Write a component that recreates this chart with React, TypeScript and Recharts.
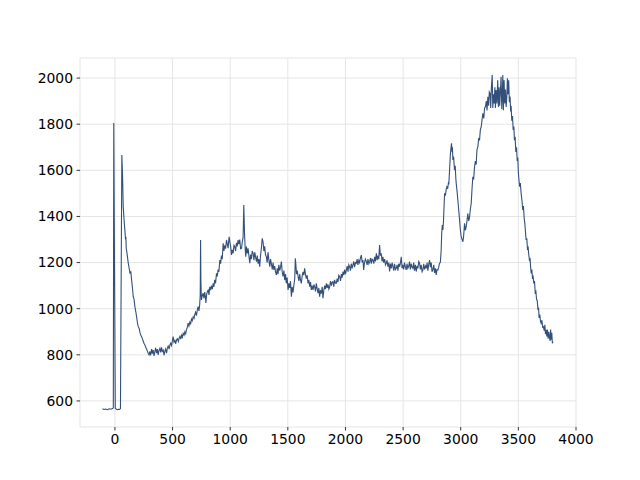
import React from "react"
import { LineChart, Line, XAxis, YAxis, CartesianGrid } from "recharts"

// ── Data ([x, y]) ─────────────────────────────────────────────────────────────

const baselineAndSpike: [number, number][] = [
  [-108, 566], [-95, 563], [-80, 565], [-65, 562], [-50, 566], [-35, 564],
  [-20, 567], [-14, 570], [-10, 1805], [3, 568], [10, 565], [20, 562],
  [30, 564], [40, 563], [48, 567]
]

const firstDecay: [number, number][] = [
  [60, 1666], [66, 1580], [72, 1442], [80, 1380], [88, 1330], [92, 1300],
  [95, 1312], [98, 1262], [105, 1240], [115, 1200], [125, 1170], [130, 1155],
  [138, 1160], [145, 1124], [152, 1090], [159, 1052], [166, 1040], [173, 1010],
  [180, 990], [188, 965], [195, 940], [202, 922], [210, 915], [218, 895],
  [225, 885], [231, 879], [238, 870], [245, 860], [252, 850], [260, 843],
  [268, 832], [275, 825], [282, 815], [289, 807], [296, 800]
]

const troughAndRise: [number, number][] = [
  [303, 815], [310, 798], [318, 825], [325, 805], [332, 821], [339, 795],
  [346, 812], [353, 830], [361, 807], [368, 825], [375, 800], [382, 818],
  [390, 828], [397, 810], [404, 832], [411, 815], [419, 821], [426, 798],
  [433, 815], [440, 825], [448, 807], [455, 830], [462, 838], [470, 825],
  [477, 843], [484, 850], [491, 840], [498, 860], [505, 879], [512, 855],
  [520, 862], [527, 848], [535, 865], [542, 870], [550, 858], [557, 872],
  [564, 880], [571, 868], [578, 885], [585, 876], [592, 893], [600, 885],
  [607, 900], [614, 892], [621, 910], [628, 920], [635, 937], [642, 925],
  [650, 942], [657, 935], [664, 955], [671, 948], [679, 965], [686, 958],
  [693, 975], [700, 985], [707, 970], [715, 995], [722, 1009], [729, 990],
  [735, 1015], [740, 1060], [743, 1298], [746, 1120], [750, 1038], [757, 1055],
  [765, 1067], [772, 1045], [779, 1072], [785, 1050], [789, 1025], [795, 1060],
  [802, 1075], [809, 1081], [816, 1060], [823, 1095], [830, 1080], [837, 1100],
  [845, 1085], [852, 1110], [859, 1095], [866, 1125], [873, 1110], [881, 1153],
  [888, 1140], [895, 1170], [902, 1160], [910, 1211], [917, 1195], [924, 1230],
  [931, 1215], [939, 1284], [946, 1250], [953, 1275], [960, 1260], [968, 1298],
  [975, 1280], [982, 1262], [988, 1300], [991, 1312], [997, 1290], [1004, 1270],
  [1011, 1233], [1018, 1255], [1025, 1240], [1033, 1275], [1040, 1269],
  [1047, 1250], [1054, 1285], [1061, 1270], [1068, 1298], [1075, 1280],
  [1083, 1300], [1090, 1260], [1098, 1262], [1105, 1290], [1112, 1310],
  [1118, 1450], [1124, 1330], [1130, 1260], [1135, 1225]
]

const midSlope: [number, number][] = [
  [1141, 1269], [1148, 1240], [1155, 1262], [1162, 1230], [1170, 1197],
  [1177, 1235], [1184, 1215], [1191, 1250], [1199, 1240], [1206, 1210],
  [1213, 1245], [1220, 1225], [1228, 1204], [1235, 1230], [1242, 1195],
  [1249, 1215], [1256, 1182], [1263, 1230], [1270, 1260], [1278, 1305],
  [1285, 1290], [1292, 1250], [1299, 1270], [1306, 1235], [1314, 1225],
  [1321, 1200], [1328, 1245], [1336, 1210], [1343, 1182], [1350, 1215],
  [1357, 1195], [1365, 1170], [1372, 1200], [1379, 1168], [1386, 1185],
  [1393, 1160], [1401, 1146], [1408, 1175], [1415, 1150], [1422, 1190],
  [1430, 1165], [1437, 1180], [1444, 1204], [1451, 1160], [1458, 1140],
  [1466, 1165], [1473, 1124], [1480, 1150], [1487, 1110], [1494, 1135],
  [1502, 1081], [1509, 1110], [1516, 1090], [1523, 1120], [1531, 1052],
  [1538, 1095], [1545, 1070], [1552, 1100], [1560, 1130], [1565, 1218],
  [1570, 1190], [1575, 1150], [1582, 1165], [1589, 1139], [1596, 1120],
  [1603, 1150], [1610, 1125], [1617, 1110], [1624, 1140], [1632, 1160],
  [1639, 1145], [1646, 1175], [1653, 1150], [1660, 1130], [1668, 1145],
  [1675, 1110], [1682, 1125], [1690, 1095], [1697, 1115], [1704, 1081],
  [1711, 1100], [1719, 1081], [1726, 1105], [1733, 1095], [1740, 1075],
  [1747, 1110], [1755, 1085], [1762, 1067], [1769, 1090], [1776, 1052],
  [1783, 1080], [1790, 1065], [1798, 1095], [1805, 1045], [1812, 1080]
]

const plateau: [number, number][] = [
  [1820, 1100], [1827, 1085], [1835, 1110], [1842, 1090], [1849, 1105],
  [1856, 1085], [1863, 1095], [1870, 1120], [1878, 1100], [1885, 1115],
  [1892, 1117], [1899, 1095], [1906, 1125], [1914, 1110], [1921, 1110],
  [1928, 1130], [1935, 1115], [1942, 1145], [1950, 1139], [1957, 1120],
  [1964, 1150], [1971, 1135], [1979, 1161], [1986, 1145], [1993, 1170],
  [2000, 1150], [2008, 1168], [2015, 1185], [2022, 1160], [2029, 1190],
  [2036, 1182], [2043, 1165], [2050, 1195], [2058, 1175], [2065, 1190],
  [2072, 1205], [2079, 1180], [2087, 1200], [2094, 1197], [2101, 1215],
  [2108, 1190], [2116, 1210], [2123, 1200], [2130, 1220], [2138, 1233],
  [2145, 1200], [2152, 1210], [2158, 1168], [2165, 1200], [2173, 1215],
  [2181, 1204], [2188, 1190], [2195, 1215], [2203, 1195], [2210, 1204],
  [2217, 1220], [2224, 1195], [2231, 1215], [2238, 1211], [2246, 1195],
  [2253, 1225], [2260, 1205], [2268, 1240], [2275, 1210], [2282, 1230],
  [2289, 1215], [2296, 1276], [2303, 1230], [2310, 1240], [2318, 1205],
  [2325, 1225], [2332, 1200], [2340, 1215], [2347, 1190], [2354, 1197],
  [2361, 1210], [2368, 1182], [2376, 1200], [2383, 1161], [2390, 1195],
  [2397, 1175], [2405, 1200], [2412, 1182], [2419, 1165], [2426, 1195],
  [2434, 1170], [2441, 1175], [2448, 1190], [2455, 1165], [2462, 1195],
  [2470, 1182], [2477, 1200], [2484, 1225], [2491, 1175], [2497, 1190],
  [2505, 1170], [2512, 1200], [2520, 1180], [2527, 1168], [2534, 1195],
  [2541, 1175], [2549, 1185], [2556, 1204], [2563, 1170], [2570, 1195],
  [2578, 1180], [2585, 1175], [2592, 1200], [2599, 1165], [2607, 1190],
  [2614, 1161], [2621, 1185], [2628, 1175], [2636, 1205], [2643, 1197],
  [2650, 1170], [2657, 1190], [2665, 1160], [2672, 1168], [2679, 1195],
  [2686, 1170], [2694, 1185], [2701, 1175], [2708, 1200], [2715, 1165],
  [2723, 1195], [2730, 1211], [2737, 1180], [2744, 1200], [2751, 1160],
  [2758, 1168], [2766, 1190], [2773, 1155], [2780, 1175], [2787, 1146],
  [2794, 1170], [2802, 1168], [2809, 1180], [2816, 1197], [2823, 1200]
]

const lateShoulder: [number, number][] = [
  [2830, 1250], [2835, 1327], [2840, 1363], [2845, 1341], [2850, 1377],
  [2855, 1440], [2860, 1500], [2867, 1490], [2873, 1515], [2880, 1529],
  [2887, 1520], [2893, 1545], [2897, 1543], [2903, 1600], [2909, 1659],
  [2914, 1690], [2920, 1717], [2925, 1680], [2928, 1700], [2932, 1645],
  [2938, 1660], [2946, 1601], [2952, 1620], [2958, 1560], [2961, 1543],
  [2968, 1510], [2975, 1471], [2982, 1430], [2990, 1385], [2997, 1340],
  [3004, 1312], [3012, 1300], [3019, 1290], [3026, 1320], [3033, 1370],
  [3040, 1340], [3047, 1355], [3054, 1380], [3062, 1413], [3069, 1380],
  [3076, 1395], [3083, 1430], [3091, 1456]
]

const mainPeak: [number, number][] = [
  [3098, 1520], [3105, 1572], [3112, 1560], [3120, 1616], [3127, 1640],
  [3134, 1625], [3141, 1690], [3149, 1703], [3156, 1740], [3163, 1730],
  [3170, 1775], [3178, 1789], [3185, 1820], [3192, 1847], [3200, 1825],
  [3207, 1870], [3215, 1876], [3222, 1900], [3228, 1860], [3235, 1919],
  [3242, 1880], [3248, 1940], [3255, 1933], [3260, 1870], [3266, 1960],
  [3273, 2013], [3278, 1870], [3284, 1930], [3290, 1890], [3296, 1960],
  [3301, 1870], [3307, 1948], [3314, 1890], [3321, 1991], [3327, 1875],
  [3333, 1960], [3338, 1880], [3344, 1940], [3350, 2006], [3356, 1865],
  [3361, 1930], [3365, 2013], [3370, 1861], [3376, 1991], [3382, 1890],
  [3388, 1950], [3394, 1875], [3400, 1919], [3405, 1999], [3410, 1930],
  [3416, 1990], [3422, 1895], [3428, 1920], [3433, 1855], [3437, 1880],
  [3443, 1815], [3449, 1835], [3455, 1775], [3461, 1790], [3466, 1731],
  [3472, 1745], [3478, 1680], [3484, 1700], [3490, 1640], [3495, 1655],
  [3500, 1590], [3505, 1560], [3510, 1529], [3517, 1545], [3524, 1500],
  [3531, 1470], [3538, 1428], [3544, 1445], [3550, 1395], [3556, 1370],
  [3562, 1330], [3567, 1298], [3573, 1305], [3579, 1260], [3585, 1265],
  [3590, 1235], [3596, 1211], [3602, 1215], [3607, 1175], [3612, 1153],
  [3617, 1170], [3622, 1135], [3628, 1140], [3634, 1110], [3640, 1120],
  [3646, 1070], [3652, 1075], [3658, 1040], [3664, 1035], [3670, 995],
  [3675, 1005], [3680, 960], [3686, 975], [3692, 945], [3697, 937],
  [3704, 950], [3711, 920], [3717, 922], [3724, 905], [3730, 930],
  [3735, 890], [3740, 908], [3747, 880], [3752, 910], [3758, 870],
  [3764, 900], [3769, 879], [3775, 860], [3780, 910], [3785, 865],
  [3790, 895], [3795, 850], [3800, 857]
]

const xTicks = [0, 500, 1000, 1500, 2000, 2500, 3000, 3500, 4000]
const yTicks = [600, 800, 1000, 1200, 1400, 1600, 1800, 2000]

const data = [
  ...baselineAndSpike,
  ...firstDecay,
  ...troughAndRise,
  ...midSlope,
  ...plateau,
  ...lateShoulder,
  ...mainPeak
].map(([x, y]) => ({ x, y }))

// ── Styling ───────────────────────────────────────────────────────────────────

const LINE_COLOR = "#33507a"
const GRID_COLOR = "#e5e5e5"

const TICK_STYLE = {
  fill: "#000",
  fontSize: 13.9,
  fontFamily: "DejaVu Sans, sans-serif"
}

export default function App() {
  return (
    <div style={{ position: "absolute", left: 0, top: 0, background: "#fff" }}>
      <LineChart
        width={640}
        height={480}
        data={data}
        margin={{ top: 58, right: 64, bottom: 23, left: 20 }}
      >
        <CartesianGrid stroke={GRID_COLOR} strokeWidth={1} />
        <XAxis
          type="number"
          dataKey="x"
          domain={[-303, 4000]}
          ticks={xTicks}
          allowDataOverflow
          height={30}
          axisLine={false}
          tickLine={{ stroke: "#000", strokeWidth: 0.8 }}
          tickSize={3.5}
          tickMargin={3.5}
          tick={TICK_STYLE}
          interval={0}
        />
        <YAxis
          type="number"
          dataKey="y"
          domain={[487, 2087]}
          ticks={yTicks}
          allowDataOverflow
          width={60}
          axisLine={false}
          tickLine={{ stroke: "#000", strokeWidth: 0.8 }}
          tickSize={3.5}
          tickMargin={3.5}
          tick={TICK_STYLE}
          interval={0}
        />
        <Line
          type="linear"
          dataKey="y"
          stroke={LINE_COLOR}
          strokeWidth={1.1}
          dot={false}
          isAnimationActive={false}
        />
      </LineChart>
    </div>
  )
}
